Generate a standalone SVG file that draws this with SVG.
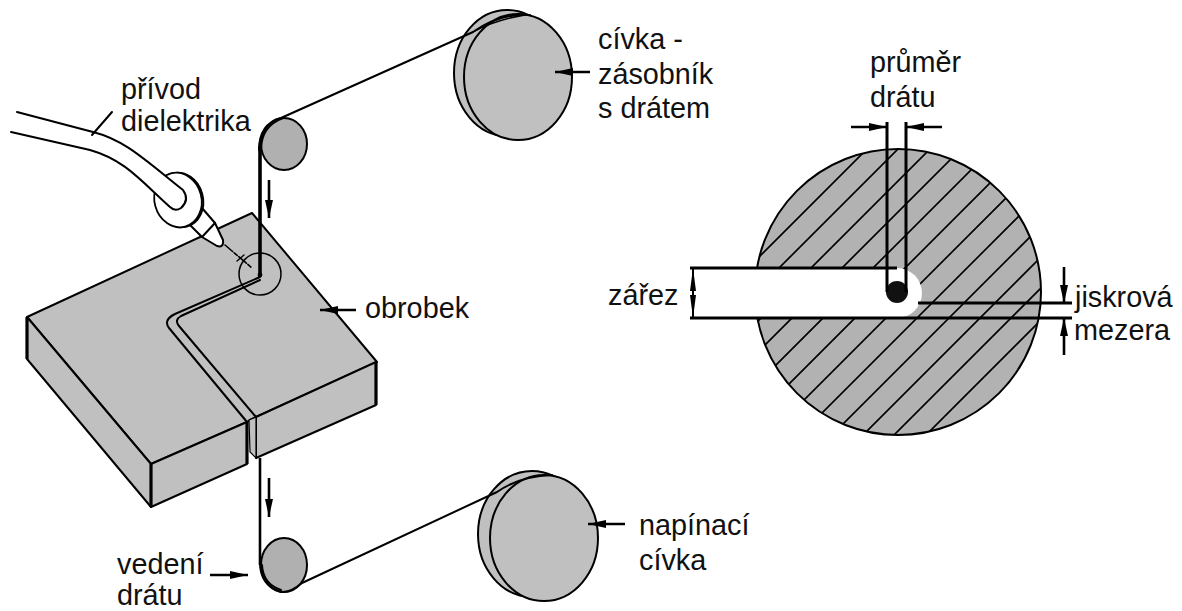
<svg xmlns="http://www.w3.org/2000/svg" width="1182" height="611" viewBox="0 0 1182 611">
<style>
text{font-family:"Liberation Sans",Arial,sans-serif;font-size:28.8px;fill:#111}
.s{stroke:#000;fill:none;stroke-width:2;stroke-linejoin:round;stroke-linecap:round}
.g{fill:#c0c0c0;stroke:#000;stroke-width:2;stroke-linejoin:round}
.d{fill:#b0b0b0;stroke:#000;stroke-width:2}
.e{stroke:#000;stroke-width:3.2;fill:none}
.w{stroke:#000;stroke-width:3;fill:none}
.a{stroke:#000;stroke-width:2.6;fill:none;marker-end:url(#ah)}
.k{stroke:#000;stroke-width:3;fill:none}
.h{stroke:#000;stroke-width:1.7;fill:none}
</style>
<defs>
<marker id="ah" markerUnits="userSpaceOnUse" markerWidth="20" markerHeight="10" refX="18" refY="5" orient="auto"><path d="M0,1 L18,5 L0,9 Z" fill="#000"/></marker>
<clipPath id="disc"><circle cx="898" cy="292" r="143"/></clipPath>
</defs>

<g id="obrobek">
<path class="g" d="M27,317 L252,213 L377,362 L256,417 L250,420 L247,422 L151,464 Z"/>
<path class="g" d="M27,317 L151,464 L151,507 L27,359 Z"/>
<path class="g" d="M151,464 L247,422 L247,464 L151,507 Z"/>
<path class="g" d="M256,417 L376,362 L376,405 L256,458 Z"/>
<path d="M249,420 L256,417 L256,458 L250,452 Z" fill="#c0c0c0" stroke="#000" stroke-width="1.2"/>
<path class="e" d="M27,317 V359 M151,464 V507 M247,422 V464 M376,362 V405"/>
<path class="s" d="M260,277 L175,314 Q163,320 169,328 L247,422"/>
<path class="s" d="M260,280 L181,316 Q174,320 179,326 L256,417"/>
<circle class="s" cx="260" cy="274" r="21" style="stroke-width:1.5"/>
</g>

<g id="privod-dielektrika">
<path d="M190,225 L202,208 L215,223 L223,240 Q224,248 217,246 L202,237 Z" fill="#fff" stroke="#000" stroke-width="2" stroke-linejoin="round"/>
<path class="s" d="M202,237 L215,223"/>
<ellipse cx="179.500" cy="200" rx="23.500" ry="27.500" transform="rotate(-15 179.500 200)" fill="#fff" stroke="#000" stroke-width="2"/>
<ellipse cx="178" cy="200" rx="23.500" ry="27.500" transform="rotate(-15 178 200)" fill="#fff" stroke="#000" stroke-width="1.8"/>
<path d="M17,112 L93,132 C125,140 145,160 183,190 Q190,200 181,208 Q175,212 170,207 C140,180 125,160 90,150 L11,132" fill="#fff" stroke="none"/>
<path class="s" d="M17,112 L93,132 C125,140 145,160 183,190 Q190,200 181,208 Q175,212 170,207 C140,180 125,160 90,150 L11,132"/>
<path class="s" d="M92,135 L112,112"/>
<path class="s" d="M225,245 L252,268" style="stroke-width:1.6" stroke-dasharray="10 2 4 2"/>
<path class="s" d="M237,261 L244,255" style="stroke-width:1.4"/>
</g>

<g id="civka-zasobnik">
<ellipse class="g" cx="507" cy="73" rx="53" ry="63"/>
<ellipse class="g" cx="518" cy="77" rx="54" ry="63"/>
</g>
<g id="vedeni-horni"><ellipse class="d" cx="284" cy="144" rx="23" ry="26"/></g>
<g id="vedeni-dolni"><ellipse class="d" cx="284" cy="565" rx="23" ry="27"/></g>
<g id="napinaci-civka">
<ellipse class="g" cx="532" cy="534" rx="54" ry="63"/>
<ellipse class="g" cx="544" cy="538" rx="54" ry="63"/>
</g>

<g id="connectors">
<path class="s" d="M281,118 L473,32 Q500,13 530,15"/>
<path class="s" d="M473,32 Q495,20 525,15" style="stroke-width:1.4"/>
<path class="s" d="M281,118 Q259,124 259,150"/>
<path class="s" d="M283,118 Q261,126 261,150"/>
<path class="w" d="M260,146 V275" style="stroke-width:3.6"/>
<circle cx="260" cy="275" r="2.4" fill="#000"/>
<path class="w" d="M260,458 V565" style="stroke-width:2.6"/>
<path class="s" d="M260,560 Q259,585 281,592 Q290,593 302,583 L497,492 Q520,476 552,475"/>
<path class="s" d="M262,565 Q263,584 281,590"/>
<path class="a" d="M269,180 V218"/>
<path class="a" d="M269,478 V517"/>
<path class="a" d="M210,575 H248"/>
<path class="a" d="M590,72 H555"/>
<path class="a" d="M625,524 H588"/>
<path class="a" d="M356,310 H320"/>
</g>

<g id="rez">
<circle cx="898" cy="292" r="143" fill="#b2b2b2"/>
<g clip-path="url(#disc)">
<path class="h" d="M876,140 L566,450 M907,140 L597,450 M939,140 L629,450 M970,140 L660,450 M1001,140 L691,450 M1033,140 L723,450 M1064,140 L754,450 M1095,140 L785,450 M1127,140 L817,450 M1158,140 L848,450 M1189,140 L879,450 M1221,140 L911,450"/>
</g>
<circle cx="898" cy="292" r="143" fill="none" stroke="#000" stroke-width="2"/>
<path d="M690,268 H897 A25,25 0 0 1 897,318 H690 Z" fill="#fff"/>
<circle cx="897" cy="292" r="11" fill="#111"/>
<path class="k" d="M887,122 V292 M906,122 V292"/>
<path class="k" d="M690,268 H897"/>
<path class="k" d="M690,318 H1072"/>
<path class="k" d="M918,303 H1072"/>
<path d="M693,268 V318" stroke="#000" stroke-width="2"/>
<path d="M693,268 L690,291 H696 Z M693,318 L690,295 H696 Z" fill="#000"/>
<path class="a" d="M851,127 H887"/>
<path class="a" d="M942,127 H906"/>
<path class="a" d="M1064,267 V303"/>
<path class="a" d="M1064,355 V318"/>
</g>

<g id="labels">
<text x="121" y="99">přívod</text>
<text x="121" y="131">dielektrika</text>
<text x="598" y="49">cívka -</text>
<text x="598" y="84">zásobník</text>
<text x="598" y="118">s drátem</text>
<text x="365" y="318">obrobek</text>
<text x="870" y="72">průměr</text>
<text x="870" y="107">drátu</text>
<text x="608" y="305">zářez</text>
<text x="1075" y="307">jiskrová</text>
<text x="1074" y="340">mezera</text>
<text x="117" y="574">vedení</text>
<text x="117" y="604.500">drátu</text>
<text x="639" y="535">napínací</text>
<text x="639" y="570">cívka</text>
</g>
</svg>
